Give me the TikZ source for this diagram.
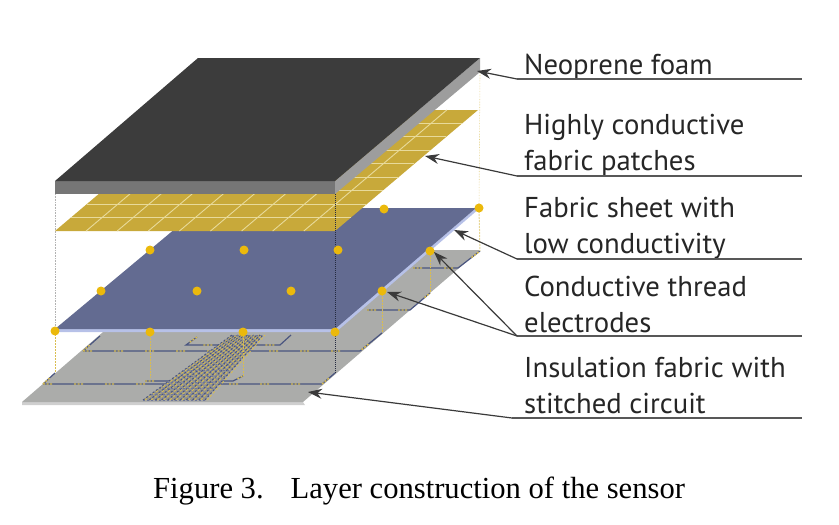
\documentclass[tikz,border=0pt]{standalone}
\usepackage{fontspec}
\setmainfont{Liberation Serif}
\newfontfamily\lblfont{PT Sans}
\usetikzlibrary{arrows.meta}
\definecolor{foamtop}{HTML}{3C3C3C}
\definecolor{foamfront}{HTML}{767676}
\definecolor{foamside}{HTML}{9D9D9D}
\definecolor{patchgold}{HTML}{C8A93A}
\definecolor{patchline}{HTML}{E8DA9A}
\definecolor{sheetblue}{HTML}{636B91}
\definecolor{sheetedge}{HTML}{B7C1E8}
\definecolor{insgray}{HTML}{ABACAA}
\definecolor{insedge}{HTML}{CFCFCF}
\definecolor{dotgold}{HTML}{EBB90C}
\definecolor{threadnavy}{HTML}{4A5580}
\definecolor{threadgold}{HTML}{D9BD50}
\definecolor{leader}{HTML}{3A3A3A}
\tikzset{
  lbl/.style={font=\lblfont\fontsize{28.7}{35.5}\selectfont,text=black!85,align=left,anchor=base west,inner sep=0pt},
  rule/.style={draw=leader!85,line width=1.2pt},
  pointer/.style={draw=leader,line width=1.2pt,-{Stealth[length=14pt,width=10pt]}},
  elec/.style={circle,fill=dotgold,inner sep=0pt,minimum size=9pt},
  threadA/.style={draw=threadnavy,line width=1.2pt},
  threadB/.style={draw=threadgold,line width=1.3pt,dash pattern=on 2pt off 1.5pt on 2pt off 1.5pt on 2pt off 22pt},
  riser/.style={draw=threadgold,line width=1pt,dash pattern=on 2pt off 1pt},
  guide/.style={draw=black!30,line width=.6pt,densely dotted},
}
\newcommand{\thr}[1]{\path[threadA] #1; \path[threadB] #1;}
\begin{document}
\begin{tikzpicture}[x=1pt,y=-1pt]
\useasboundingbox (0,0) rectangle (839,525);
% insulation fabric
\fill[insedge] (22,402) -- (303,402) -- (305,405) -- (22,405) -- cycle;
\fill[insgray] (22,402) -- (198,250) -- (480,250) -- (303,402) -- cycle;
% stitched circuit
\thr{(83,351) -- (360,351) -- (382,333)}
\thr{(83,351) -- (100,336)}
\thr{(43,384) -- (322,384) -- (335,373)}
\thr{(43,384) -- (55,373)}
\thr{(197,337) -- (186,345) -- (280,345) -- (291,335)}
\thr{(145,381) -- (233,381) -- (243,376)}
\thr{(367,310) -- (410,310) -- (430,293)}
\thr{(413,268) -- (458,268) -- (480,251)}
% stitched patch
\fill[insgray!85!black] (143,400) -- (232,335) -- (263,335) -- (205,400) -- cycle;
\foreach \i in {0,...,10}{
  \draw[threadnavy,line width=1pt,dash pattern=on 2pt off 2pt] (143+6.2*\i,400) -- (232+3.1*\i,335);
  \draw[threadgold,line width=.9pt,dash pattern=on 2.5pt off 2pt] (145+6.2*\i,400) -- (234+3.1*\i,335);
}
\foreach \j in {0,...,11}{
  \draw[threadnavy!80,line width=.8pt,dash pattern=on 1.5pt off 2.5pt] (143+89*\j/11,400-65*\j/11) -- (205+58*\j/11,400-65*\j/11);
}
% risers
\draw[riser] (55,331) -- (55,373);
\draw[riser] (150,332) -- (150,378);
\draw[riser] (243,332) -- (243,377);
\draw[riser] (382,291) -- (382,333);
\draw[riser] (430,251) -- (430,293);
\draw[riser,threadgold!60] (479,208) -- (480,251);
% guides
\draw[guide] (55,194) -- (55,331);
\draw[guide,draw=threadgold!70] (480,72) -- (479,208);
% low-conductivity sheet
\fill[sheetedge] (55,332) -- (336,332) -- (480,208) -- (476,208) -- (335,328) -- (55,328) -- cycle;
\fill[sheetblue] (55,329) -- (200,208) -- (476,208) -- (335,329) -- cycle;
% conductive patches
\fill[patchgold] (55,231) -- (198,110) -- (478,110) -- (335,231) -- cycle;
\foreach \i in {1,...,8}{
  \draw[patchline,line width=.9pt] (55+31.1*\i,231) -- (198+31.1*\i,110);
}
\foreach \j in {1,...,8}{
  \draw[patchline,line width=.9pt] (55+143*\j/9,231-121*\j/9) -- (335+143*\j/9,231-121*\j/9);
}
% foam
\fill[foamfront] (55,181) rectangle (335,194);
\fill[foamside] (335,181) -- (480,58) -- (480,72) -- (335,194) -- cycle;
\fill[foamtop] (55,181) -- (198,58) -- (480,58) -- (335,181) -- cycle;
% dark stitch line
\draw[threadnavy!50!black,line width=1pt,densely dotted] (335,194) -- (335,373);
% electrodes
\foreach \n/\x/\y in {a/384/209,b/479/208,c/150/250,d/244/250,e/338/250,f/430/251,g/101/291,h/197/291,k/291/291,l/382/291,m/55/331,n/150/332,o/243/332,p/335/332}{
  \node[elec] (dot\n) at (\x,\y) {};
}
% labels
\node[lbl] (neo) at (524,74) {Neoprene foam};
\node[lbl] (pat) at (524,170) {Highly conductive\\fabric patches};
\node[lbl] (she) at (524,253) {Fabric sheet with\\low conductivity};
\node[lbl] (con) at (524,332) {Conductive thread\\electrodes};
\node[lbl] (ins) at (524,413) {Insulation fabric with\\stitched circuit};
\node[font=\fontsize{30.6}{34}\selectfont,anchor=base west,inner sep=0pt,text=black] (cap) at (153,498) {Figure 3.\hspace{27pt}Layer construction of the sensor};
% leader rules
\coordinate (r1a) at (517,79); \coordinate (r1b) at (802,79);
\coordinate (r2a) at (517,176); \coordinate (r2b) at (802,176);
\coordinate (r3a) at (517,259); \coordinate (r3b) at (802,259);
\coordinate (r4a) at (517,336); \coordinate (r4b) at (802,336);
\coordinate (r5a) at (512,418); \coordinate (r5b) at (802,418);
\coordinate (t1) at (477,71);
\coordinate (t2) at (425,156);
\coordinate (t3) at (454,230);
\coordinate (t4) at (434,252);
\coordinate (t5) at (387,292);
\coordinate (t6) at (308,392);
\draw[rule] (r1a) -- (r1b);
\draw[rule] (r2a) -- (r2b);
\draw[rule] (r3a) -- (r3b);
\draw[rule] (r4a) -- (r4b);
\draw[rule] (r5a) -- (r5b);
\draw[pointer] (r1a) -- (t1);
\draw[pointer] (r2a) -- (t2);
\draw[pointer] (r3a) -- (t3);
\draw[pointer] (r4a) -- (t4);
\draw[pointer] (r4a) -- (t5);
\draw[pointer] (r5a) -- (t6);
\end{tikzpicture}
\end{document}
